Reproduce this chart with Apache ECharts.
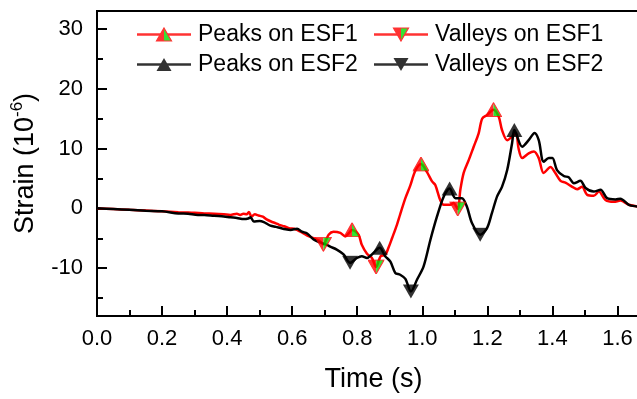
<!DOCTYPE html>
<html>
<head>
<meta charset="utf-8">
<script src="https://cdn.jsdelivr.net/npm/echarts@6/dist/echarts.min.js"></script>
<style>
  html, body { margin: 0; padding: 0; background: #fff; }
  #chart { width: 637px; height: 399px; }
</style>
</head>
<body>
<div id="chart"></div>
<script>
// Strain histories recorded on the two sensing fibres
const timeESF1 = [0.00, 0.05, 0.10, 0.15, 0.20, 0.25, 0.28, 0.30, 0.33, 0.36, 0.39, 0.41, 0.43, 0.44, 0.45, 0.46, 0.467, 0.475, 0.485, 0.497,
  0.51, 0.52, 0.535, 0.55, 0.56, 0.575, 0.59, 0.61, 0.625, 0.645, 0.666, 0.686, 0.696, 0.712, 0.727, 0.748, 0.763, 0.775, 0.784, 0.804,
  0.814, 0.83, 0.845, 0.858, 0.872, 0.886, 0.896, 0.907, 0.922, 0.932, 0.948, 0.963, 0.978, 0.996, 1.014, 1.03, 1.04, 1.055, 1.066, 1.086,
  1.096, 1.109, 1.117, 1.127, 1.143, 1.158, 1.173, 1.184, 1.199, 1.219, 1.235, 1.245, 1.261, 1.276, 1.288, 1.296, 1.307, 1.327, 1.343, 1.358,
  1.373, 1.394, 1.409, 1.425, 1.44, 1.461, 1.476, 1.491, 1.507, 1.527, 1.543, 1.563, 1.589, 1.609, 1.635, 1.661, 1.68];
const strainESF1 = [0.0, -0.1, -0.25, -0.35, -0.5, -0.65, -0.7, -0.75, -0.85, -0.9, -1.0, -1.1, -0.9, -1.1, -0.9, -1.0, -0.6, -1.4, -1.0, -1.2,
  -1.4, -1.8, -2.2, -2.5, -2.75, -3.0, -3.3, -3.5, -3.9, -4.5, -5.0, -5.5, -6.0, -4.4, -3.9, -4.1, -4.7, -4.1, -3.6, -4.4,
  -6.1, -7.6, -8.3, -9.8, -8.0, -7.8, -6.6, -5.0, -2.75, -1.0, 1.7, 3.8, 6.2, 7.4, 6.1, 4.5, 3.9, 1.4, 0.6, 0.6,
  0.9, -0.1, 3.1, 5.9, 8.1, 10.3, 12.5, 15.0, 15.6, 16.5, 15.3, 13.1, 11.4, 12.0, 12.6, 10.0, 8.4, 9.2, 9.5, 8.4,
  5.9, 6.9, 5.9, 4.6, 4.3, 3.6, 3.2, 3.6, 2.25, 2.1, 2.8, 1.4, 1.1, 1.3, 0.6, 0.3, 0.1];

const timeESF2 = [0.00, 0.05, 0.10, 0.15, 0.20, 0.25, 0.28, 0.31, 0.33, 0.36, 0.39, 0.41, 0.43, 0.451, 0.465, 0.472, 0.482, 0.50, 0.513, 0.533,
  0.55, 0.564, 0.58, 0.595, 0.615, 0.63, 0.646, 0.666, 0.686, 0.707, 0.717, 0.737, 0.758, 0.778, 0.799, 0.814, 0.83, 0.845, 0.869, 0.886,
  0.902, 0.917, 0.932, 0.948, 0.965, 0.984, 1.004, 1.025, 1.045, 1.066, 1.084, 1.102, 1.122, 1.137, 1.153, 1.178, 1.199, 1.214, 1.23, 1.245,
  1.261, 1.276, 1.283, 1.307, 1.327, 1.345, 1.358, 1.373, 1.389, 1.40, 1.414, 1.435, 1.45, 1.466, 1.486, 1.502, 1.527, 1.548, 1.568, 1.594,
  1.609, 1.635, 1.661, 1.68];
const strainESF2 = [0.0, -0.1, -0.25, -0.4, -0.5, -0.85, -0.9, -1.1, -1.1, -1.25, -1.35, -1.5, -1.6, -1.8, -1.7, -1.5, -2.2, -2.1, -2.3, -2.9,
  -3.1, -3.3, -3.5, -3.6, -3.4, -3.9, -4.2, -5.2, -5.7, -6.1, -6.4, -6.9, -7.7, -9.1, -8.3, -8.0, -8.3, -7.7, -6.6, -8.0,
  -8.9, -10.8, -11.1, -11.8, -13.9, -11.9, -9.7, -5.25, -1.4, 2.0, 3.3, 1.7, 1.7, 0.3, -2.5, -4.4, -3.3, -0.8, 2.0, 3.6,
  6.4, 10.9, 13.1, 10.3, 11.4, 12.6, 11.4, 7.8, 8.4, 8.4, 6.4, 5.4, 5.2, 4.2, 4.6, 3.4, 2.8, 3.1, 1.7, 1.5,
  1.6, 0.6, 0.3, 0.1];

// Picked extrema
const peakTimeESF1 = [0.784, 0.996, 1.219];
const peakStrainESF1 = [-3.6, 7.4, 16.5];
const valleyTimeESF1 = [0.696, 0.858, 1.109];
const valleyStrainESF1 = [-6.0, -9.8, -0.1];
const peakTimeESF2 = [0.869, 1.084, 1.283];
const peakStrainESF2 = [-6.6, 3.3, 13.1];
const valleyTimeESF2 = [0.778, 0.965, 1.178];
const valleyStrainESF2 = [-9.1, -13.9, -4.4];

// Axis ticks
const xMajorTicks = [0.0, 0.2, 0.4, 0.6, 0.8, 1.0, 1.2, 1.4, 1.6];
const xMinorTicks = [0.1, 0.3, 0.5, 0.7, 0.9, 1.1, 1.3, 1.5];
const yMajorTicks = [-10, 0, 10, 20, 30];
const yMinorTicks = [-15, -5, 5, 15, 25];

const seriesNames = ['Peaks on ESF1', 'Valleys on ESF1', 'Peaks on ESF2', 'Valleys on ESF2'];

const zip = (xs, ys) => xs.map((x, i) => [x, ys[i]]);

const RED = '#ff0000', GREEN = '#00dd00', BLACK = '#000000';

// Triangle marker drawn as a small SVG; two-tone variant splits the fill down the middle
function triangleSvg(dir, color, split, w, h, ox, oy) {
  const top = dir === 'up';
  const apexY = top ? oy + 0.5 : oy + h - 0.5;
  const baseY = top ? oy + h - 0.5 : oy + 0.5;
  const cx = ox + w / 2, l = ox + 0.5, r = ox + w - 0.5;
  let s = '';
  if (split) {
    s += `<polygon points='${cx},${apexY} ${cx},${baseY} ${l},${baseY}' fill='${color}'/>`;
    s += `<polygon points='${cx},${apexY} ${r},${baseY} ${cx},${baseY}' fill='${GREEN}'/>`;
    s += `<polygon points='${cx},${apexY} ${r},${baseY} ${l},${baseY}' fill='none' stroke='${color}' stroke-width='1.2'/>`;
  } else {
    s += `<polygon points='${cx},${apexY} ${r},${baseY} ${l},${baseY}' fill='${color}'/>`;
  }
  return s;
}
function toImage(svgBody, w, h) {
  const svg = `<svg xmlns='http://www.w3.org/2000/svg' width='${w}' height='${h}' viewBox='0 0 ${w} ${h}'>${svgBody}</svg>`;
  return 'image://data:image/svg+xml;charset=utf-8,' + encodeURIComponent(svg);
}
const MW = 17, MH = 15;
function markerSymbol(dir, color, split) {
  return toImage(triangleSvg(dir, color, split, MW, MH, 0, 0), MW, MH);
}
const IW = 54, IH = 16, LW = 16, LH = 14;
function legendIcon(dir, color, split) {
  const line = `<line x1='0' y1='${IH / 2}' x2='${IW}' y2='${IH / 2}' stroke='${color}' stroke-width='2.5'/>`;
  return toImage(line + triangleSvg(dir, color, split, LW, LH, (IW - LW) / 2, (IH - LH) / 2), IW, IH);
}

const styles = [
  { dir: 'up', color: RED, split: true, t: peakTimeESF1, v: peakStrainESF1 },
  { dir: 'down', color: RED, split: true, t: valleyTimeESF1, v: valleyStrainESF1 },
  { dir: 'up', color: BLACK, split: false, t: peakTimeESF2, v: peakStrainESF2 },
  { dir: 'down', color: BLACK, split: false, t: valleyTimeESF2, v: valleyStrainESF2 }
];

const FONT = "'Liberation Sans', Arial, sans-serif";

const chart = echarts.init(document.getElementById('chart'), null, { renderer: 'canvas' });

const legendCommon = {
  orient: 'vertical',
  itemWidth: IW,
  itemHeight: IH,
  itemGap: 7,
  padding: 0,
  selectedMode: false,
  textStyle: { fontFamily: FONT, fontSize: 23, color: '#000', lineHeight: 23, padding: [0, 0, 0, 2] }
};

chart.setOption({
  animation: false,
  backgroundColor: '#fff',
  grid: {
    left: 97, top: 11, right: -13, bottom: 83,
    show: true, borderColor: BLACK, borderWidth: 2,
    outerBoundsMode: 'none', containLabel: false
  },
  legend: [
    Object.assign({}, legendCommon, {
      left: 137, top: 23,
      data: [0, 2].map(i => ({ name: seriesNames[i], icon: legendIcon(styles[i].dir, styles[i].color, styles[i].split) }))
    }),
    Object.assign({}, legendCommon, {
      left: 374, top: 23,
      data: [1, 3].map(i => ({ name: seriesNames[i], icon: legendIcon(styles[i].dir, styles[i].color, styles[i].split) }))
    })
  ],
  xAxis: [
    {
      type: 'value', min: 0, max: 1.7, position: 'bottom',
      name: 'Time (s)', nameLocation: 'middle', nameGap: 50,
      nameTextStyle: { fontFamily: FONT, fontSize: 27, color: '#000' },
      axisLine: { show: true, onZero: false, lineStyle: { color: BLACK, width: 2 } },
      axisTick: { show: true, inside: true, length: 10, customValues: xMajorTicks, lineStyle: { color: BLACK, width: 2 } },
      axisLabel: { show: true, customValues: xMajorTicks, margin: 12, fontFamily: FONT, fontSize: 22, color: '#000',
        formatter: v => v.toFixed(1) },
      splitLine: { show: false }
    },
    {
      type: 'value', min: 0, max: 1.7, position: 'bottom',
      axisLine: { show: false, onZero: false },
      axisTick: { show: true, inside: true, length: 6, customValues: xMinorTicks, lineStyle: { color: BLACK, width: 2 } },
      axisLabel: { show: false },
      splitLine: { show: false }
    }
  ],
  yAxis: [
    {
      type: 'value', min: -18, max: 33, position: 'left',
      name: '{a|Strain (10}{b|-6}{a|)}', nameLocation: 'middle', nameGap: 58,
      nameTextStyle: {
        fontFamily: FONT, color: '#000',
        rich: {
          a: { fontFamily: FONT, fontSize: 27, color: '#000', lineHeight: 30, verticalAlign: 'bottom' },
          b: { fontFamily: FONT, fontSize: 17, color: '#000', lineHeight: 30, verticalAlign: 'top' }
        }
      },
      axisLine: { show: true, onZero: false, lineStyle: { color: BLACK, width: 2 } },
      axisTick: { show: true, inside: true, length: 10, customValues: yMajorTicks, lineStyle: { color: BLACK, width: 2 } },
      axisLabel: { show: true, customValues: yMajorTicks, margin: 14, fontFamily: FONT, fontSize: 22, color: '#000' },
      splitLine: { show: false }
    },
    {
      type: 'value', min: -18, max: 33, position: 'left',
      axisLine: { show: false, onZero: false },
      axisTick: { show: true, inside: true, length: 6, customValues: yMinorTicks, lineStyle: { color: BLACK, width: 2 } },
      axisLabel: { show: false },
      splitLine: { show: false }
    }
  ],
  series: [
    {
      name: 'ESF1', type: 'line', data: zip(timeESF1, strainESF1),
      showSymbol: false, symbol: 'none', smooth: 0.3,
      lineStyle: { color: RED, width: 2.5 }, itemStyle: { color: RED }, z: 2
    },
    {
      name: 'ESF2', type: 'line', data: zip(timeESF2, strainESF2),
      showSymbol: false, symbol: 'none', smooth: 0.3,
      lineStyle: { color: BLACK, width: 2.5 }, itemStyle: { color: BLACK }, z: 3
    }
  ].concat(styles.map((s, i) => ({
    name: seriesNames[i], type: 'scatter',
    data: zip(s.t, s.v),
    symbol: markerSymbol(s.dir, s.color, s.split),
    symbolSize: [MW, MH],
    itemStyle: { color: s.color },
    z: 5
  })))
});
</script>
</body>
</html>
